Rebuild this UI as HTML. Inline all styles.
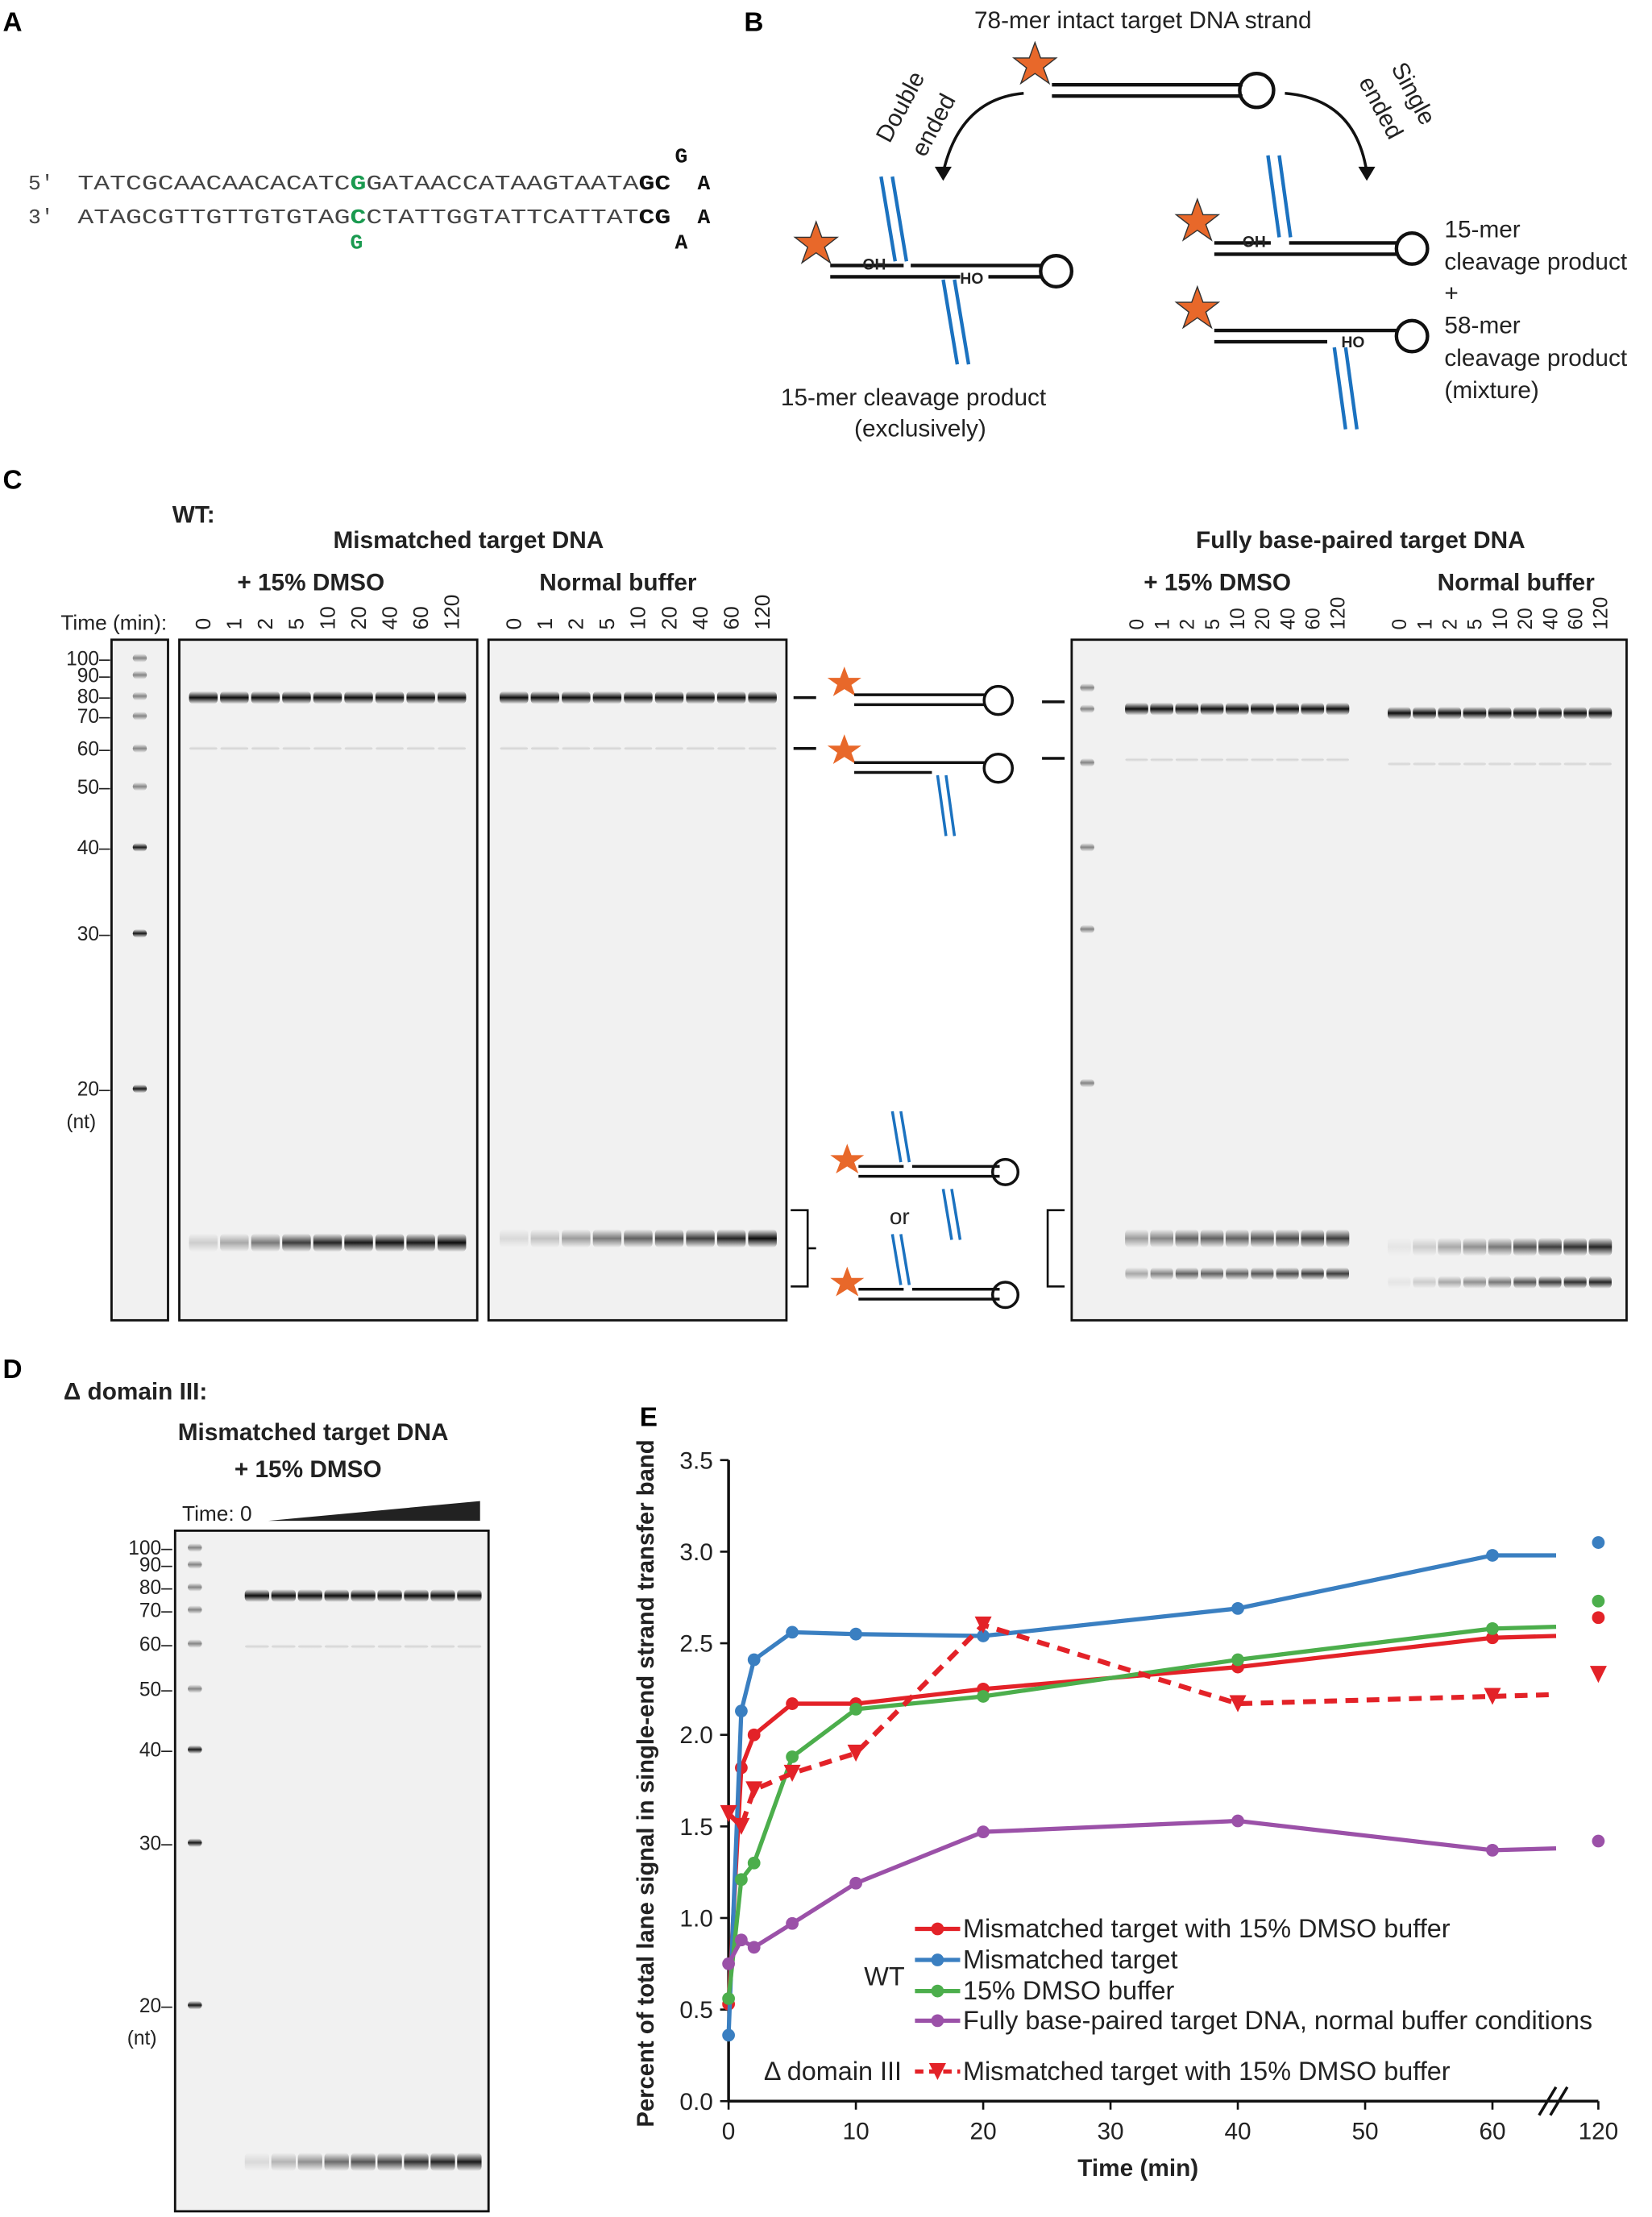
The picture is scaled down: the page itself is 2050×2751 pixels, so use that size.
<!DOCTYPE html>
<html><head><meta charset="utf-8">
<style>
html,body{margin:0;padding:0;background:#fff;}
svg{display:block;font-family:"Liberation Sans",sans-serif;}
</style></head>
<body>
<svg id="fig" width="2050" height="2751" viewBox="0 0 1170 1570" xmlns="http://www.w3.org/2000/svg">
<defs>
<linearGradient id="band" x1="0" y1="0" x2="0" y2="1"><stop offset="0" stop-color="#000" stop-opacity="0"/><stop offset="0.5" stop-color="#000" stop-opacity="1"/><stop offset="1" stop-color="#000" stop-opacity="0"/></linearGradient>
</defs>
<g font-weight="bold" font-size="19">
<text x="2" y="22">A</text><text x="527" y="22">B</text><text x="2" y="346">C</text><text x="2" y="976">D</text><text x="453" y="1010">E</text>
</g>
<g font-family="Liberation Mono, monospace" font-size="15">
<text x="20" y="134" fill="#444">5′</text><text x="20" y="158" fill="#444">3′</text>
<text x="55" y="134" fill="#444" textLength="420" lengthAdjust="spacingAndGlyphs">TATCGCAACAACACATC<tspan fill="#1a9a50" font-weight="bold">G</tspan>GATAACCATAAGTAATA<tspan fill="#111" font-weight="bold">GC</tspan></text>
<text x="55" y="158" fill="#444" textLength="420" lengthAdjust="spacingAndGlyphs">ATAGCGTTGTTGTGTAG<tspan fill="#1a9a50" font-weight="bold">C</tspan>CTATTGGTATTCATTAT<tspan fill="#111" font-weight="bold">CG</tspan></text>
<text x="248" y="176" fill="#1a9a50" font-weight="bold">G</text>
<g font-weight="bold" fill="#111"><text x="478" y="115">G</text><text x="494" y="134">A</text><text x="494" y="158">A</text><text x="478" y="176">A</text></g>
</g>
<g font-size="17" fill="#222">
<text x="690" y="20">78-mer intact target DNA strand</text>
<polygon points="733,30 737,41 748,41 739,48 743,59 733,52 723,59 727,48 718,41 729,41" fill="#e8682a" stroke="#333" stroke-width="0.8"/>
<line x1="745" y1="60" x2="880" y2="60" stroke="#111" stroke-width="2.5"/><line x1="745" y1="68" x2="880" y2="68" stroke="#111" stroke-width="2.5"/>
<circle cx="890" cy="64" r="12" fill="none" stroke="#111" stroke-width="2.5"/>
<path d="M725,66 Q680,70 668,122" fill="none" stroke="#111" stroke-width="2"/><polygon points="662,118 674,118 668,128" fill="#111"/>
<path d="M910,66 Q960,70 968,122" fill="none" stroke="#111" stroke-width="2"/><polygon points="962,118 974,118 968,128" fill="#111"/>
<text transform="translate(630,102) rotate(-62)" font-size="17">Double</text><text transform="translate(655,112) rotate(-62)" font-size="17">ended</text>
<text transform="translate(985,48) rotate(62)" font-size="17">Single</text><text transform="translate(962,58) rotate(62)" font-size="17">ended</text>
<polygon points="578,157 582,168 593,168 584,175 588,186 578,179 568,186 572,175 563,168 574,168" fill="#e8682a" stroke="#333" stroke-width="0.8"/>
<line x1="588" y1="188" x2="640" y2="188" stroke="#111" stroke-width="2.5"/><line x1="588" y1="196" x2="680" y2="196" stroke="#111" stroke-width="2.5"/>
<line x1="645" y1="188" x2="738" y2="188" stroke="#111" stroke-width="2.5"/><line x1="700" y1="196" x2="738" y2="196" stroke="#111" stroke-width="2.5"/>
<circle cx="748" cy="192" r="11" fill="none" stroke="#111" stroke-width="2.5"/>
<line x1="624" y1="125" x2="634" y2="185" stroke="#1b72c0" stroke-width="2.5"/><line x1="632" y1="125" x2="642" y2="185" stroke="#1b72c0" stroke-width="2.5"/>
<line x1="668" y1="198" x2="678" y2="258" stroke="#1b72c0" stroke-width="2.5"/><line x1="676" y1="198" x2="686" y2="258" stroke="#1b72c0" stroke-width="2.5"/>
<text x="611" y="191" font-size="11" font-weight="bold">OH</text><text x="680" y="201" font-size="11" font-weight="bold">HO</text>
<text x="553" y="287">15-mer cleavage product</text><text x="605" y="309">(exclusively)</text>
<polygon points="848,141 852,152 863,152 854,159 858,170 848,163 838,170 842,159 833,152 844,152" fill="#e8682a" stroke="#333" stroke-width="0.8"/>
<line x1="860" y1="172" x2="900" y2="172" stroke="#111" stroke-width="2.5"/><line x1="913" y1="172" x2="990" y2="172" stroke="#111" stroke-width="2.5"/><line x1="860" y1="180" x2="990" y2="180" stroke="#111" stroke-width="2.5"/>
<circle cx="1000" cy="176" r="11" fill="none" stroke="#111" stroke-width="2.5"/>
<line x1="898" y1="110" x2="906" y2="168" stroke="#1b72c0" stroke-width="2.5"/><line x1="906" y1="110" x2="914" y2="168" stroke="#1b72c0" stroke-width="2.5"/>
<text x="880" y="175" font-size="11" font-weight="bold">OH</text>
<polygon points="848,203 852,214 863,214 854,221 858,232 848,225 838,232 842,221 833,214 844,214" fill="#e8682a" stroke="#333" stroke-width="0.8"/>
<line x1="860" y1="234" x2="990" y2="234" stroke="#111" stroke-width="2.5"/><line x1="860" y1="242" x2="940" y2="242" stroke="#111" stroke-width="2.5"/>
<circle cx="1000" cy="238" r="11" fill="none" stroke="#111" stroke-width="2.5"/>
<line x1="945" y1="246" x2="953" y2="304" stroke="#1b72c0" stroke-width="2.5"/><line x1="953" y1="246" x2="961" y2="304" stroke="#1b72c0" stroke-width="2.5"/>
<text x="950" y="246" font-size="11" font-weight="bold">HO</text>
<text x="1023" y="168">15-mer</text><text x="1023" y="191">cleavage product</text><text x="1023" y="213">+</text>
<text x="1023" y="236">58-mer</text><text x="1023" y="259">cleavage product</text><text x="1023" y="282">(mixture)</text>
</g>
<g font-weight="bold" font-size="17" fill="#222">
<text x="122" y="370">WT:</text>
<text x="236" y="388">Mismatched target DNA</text>
<text x="168" y="418">+ 15% DMSO</text><text x="382" y="418">Normal buffer</text>
<text x="847" y="388">Fully base-paired target DNA</text>
<text x="810" y="418">+ 15% DMSO</text><text x="1018" y="418">Normal buffer</text>
<text x="43" y="446" font-weight="normal" font-size="15">Time (min):</text>
</g>
<g id="gels"></g>
<g fill="#222">
<line x1="562" y1="494" x2="578" y2="494" stroke="#111" stroke-width="2"/><line x1="562" y1="530" x2="578" y2="530" stroke="#111" stroke-width="2"/>
<line x1="738" y1="497" x2="754" y2="497" stroke="#111" stroke-width="2"/><line x1="738" y1="537" x2="754" y2="537" stroke="#111" stroke-width="2"/>
<path d="M560,857 H572 V911 H560" fill="none" stroke="#111" stroke-width="1.5"/><line x1="572" y1="884" x2="578" y2="884" stroke="#111" stroke-width="1.5"/>
<path d="M754,857 H742 V911 H754" fill="none" stroke="#111" stroke-width="1.5"/>
<polygon points="598,472 601,480 610,480 603,485 606,493 598,488 590,493 593,485 586,480 595,480" fill="#e8682a"/>
<line x1="605" y1="492" x2="698" y2="492" stroke="#111" stroke-width="2"/><line x1="605" y1="499" x2="698" y2="499" stroke="#111" stroke-width="2"/><circle cx="707" cy="496" r="10" fill="none" stroke="#111" stroke-width="2"/>
<polygon points="598,520 601,528 610,528 603,533 606,541 598,536 590,541 593,533 586,528 595,528" fill="#e8682a"/>
<line x1="605" y1="540" x2="698" y2="540" stroke="#111" stroke-width="2"/><line x1="605" y1="547" x2="660" y2="547" stroke="#111" stroke-width="2"/><circle cx="707" cy="544" r="10" fill="none" stroke="#111" stroke-width="2"/>
<line x1="664" y1="549" x2="670" y2="592" stroke="#1b72c0" stroke-width="2"/><line x1="670" y1="549" x2="676" y2="592" stroke="#1b72c0" stroke-width="2"/>
<polygon points="600,810 603,818 612,818 605,823 608,831 600,826 592,831 595,823 588,818 597,818" fill="#e8682a"/>
<line x1="608" y1="826" x2="640" y2="826" stroke="#111" stroke-width="2"/><line x1="646" y1="826" x2="708" y2="826" stroke="#111" stroke-width="2"/><line x1="608" y1="833" x2="708" y2="833" stroke="#111" stroke-width="2"/><circle cx="712" cy="830" r="9" fill="none" stroke="#111" stroke-width="2"/>
<line x1="632" y1="787" x2="638" y2="823" stroke="#1b72c0" stroke-width="2"/><line x1="638" y1="787" x2="644" y2="823" stroke="#1b72c0" stroke-width="2"/>
<line x1="668" y1="842" x2="674" y2="878" stroke="#1b72c0" stroke-width="2"/><line x1="674" y1="842" x2="680" y2="878" stroke="#1b72c0" stroke-width="2"/>
<text x="630" y="867" font-size="16">or</text>
<polygon points="600,897 603,905 612,905 605,910 608,918 600,913 592,918 595,910 588,905 597,905" fill="#e8682a"/>
<line x1="608" y1="913" x2="640" y2="913" stroke="#111" stroke-width="2"/><line x1="646" y1="913" x2="708" y2="913" stroke="#111" stroke-width="2"/><line x1="608" y1="920" x2="708" y2="920" stroke="#111" stroke-width="2"/><circle cx="712" cy="917" r="9" fill="none" stroke="#111" stroke-width="2"/>
<line x1="632" y1="874" x2="638" y2="910" stroke="#1b72c0" stroke-width="2"/><line x1="638" y1="874" x2="644" y2="910" stroke="#1b72c0" stroke-width="2"/>
</g>
<g font-size="17" fill="#222">
<text x="45" y="991" font-weight="bold">Δ domain III:</text>
<text x="126" y="1020" font-weight="bold">Mismatched target DNA</text>
<text x="166" y="1046" font-weight="bold">+ 15% DMSO</text>
<text x="129" y="1077" font-size="15">Time: 0</text>
<polygon points="190,1077 340,1077 340,1063" fill="#222"/>
</g>
<g id="chart"></g>
</svg>
<script>
const NS="http://www.w3.org/2000/svg";
function mk(parent,tag,attrs,txt){const e=document.createElementNS(NS,tag);for(const k in attrs)e.setAttribute(k,attrs[k]);if(txt!==undefined)e.textContent=txt;parent.appendChild(e);return e;}
const gels=document.getElementById('gels');
const ladderC=['100','90','80','70','60','50','40','30','20'];
const ladderCY=[466,478,493,507,530,557,600,661,771];
const ladderDY=[1096,1108,1124,1140,1164,1196,1239,1305,1420];
const timesC=['0','1','2','5','10','20','40','60','120'];
const timesM=['0','1','2','5','10','20','40','60','120'];
const bottomC1=[0.15,0.3,0.5,0.75,0.85,0.9,0.92,0.9,0.95];
const bottomC2=[0.1,0.2,0.35,0.5,0.6,0.7,0.75,0.85,0.95];
const bottomD=[0.1,0.25,0.4,0.55,0.65,0.7,0.8,0.85,0.9];
function gelBox(x,y,w,h,name){const r=mk(gels,'rect',{x:x,y:y,width:w,height:h,fill:'#f1f1f1',stroke:'#111','stroke-width':1.6});}
function band(x,y,w,h,op,name){const r=mk(gels,'rect',{x:x-w/2,y:y-h/2,width:w,height:h,rx:3,fill:'url(#band)',opacity:op});}
function ladder(x,ys,labels,name,labelX){for(let i=0;i<ys.length;i++){const op=labels[i]==='20'||labels[i]==='30'||labels[i]==='40'?0.9:0.45;band(x,ys[i],10,6,op,name+'-band');if(labels[i]){const t=mk(gels,'text',{x:labelX,y:ys[i]+5,'font-size':14,'text-anchor':'end',fill:'#222'},labels[i]+'–');}}}
gelBox(79,453,40,482,'ladder-gel-c');gelBox(127,453,211,482,'gel-mismatched-dmso');gelBox(346,453,211,482,'gel-mismatched-normal');gelBox(759,453,393,482,'gel-fully-paired');
ladder(99,ladderCY,ladderC,'ladder-c',78);
{const t=mk(gels,'text',{x:68,y:799,'font-size':14,'text-anchor':'end',fill:'#222'},'(nt)');}
function lanes(x0,step,n,topY,botY,bot,name,labelY,labels,fs,bot2){
 for(let i=0;i<n;i++){const x=x0+i*step;band(x,topY,step*0.92,9,0.95,name+'-full-band');band(x,topY+36,step*0.9,3,0.12,name+'-58mer-band');
  band(x,botY,step*0.92,13,bot[i],name+'-15mer-band');if(bot2)band(x,botY+25,step*0.9,9,bot2[i],name+'-15mer-band2');
  if(labels){const t=mk(gels,'text',{transform:`translate(${x+5},${labelY}) rotate(-90)`,'font-size':fs,fill:'#222'},labels[i]);}}}
lanes(144,22,9,494,880,bottomC1,'lane-c1',446,timesC,15);
lanes(364,22,9,494,877,bottomC2,'lane-c2',446,timesC,15);
ladder(770,[487,502,540,600,658,767],['','','','','',''],'ladder-c2',760);
lanes(805,17.8,9,502,877,[0.35,0.45,0.6,0.6,0.6,0.65,0.7,0.75,0.75],'lane-f1',446,timesM,14,[0.3,0.45,0.6,0.6,0.6,0.65,0.7,0.75,0.75]);
lanes(991,17.8,9,505,883,[0.05,0.15,0.3,0.4,0.5,0.65,0.75,0.8,0.85],'lane-f2',446,timesM,14,[0.05,0.15,0.3,0.4,0.5,0.65,0.75,0.8,0.85]);
gelBox(124,1084,222,482,'gel-domain3');
ladder(138,ladderDY,ladderC,'ladder-d',122);
{const t=mk(gels,'text',{x:111,y:1448,'font-size':14,'text-anchor':'end',fill:'#222'},'(nt)');}
lanes(182,18.8,9,1130,1531,bottomD,'lane-d');
/* ---------- chart E ---------- */
const chart=document.getElementById('chart');
const xTicks=[0,10,20,30,40,50,60];
const yTicks=[0,0.5,1,1.5,2,2.5,3,3.5];
const times=[0,1,2,5,10,20,40,60];
const redWT=[0.53,1.82,2.0,2.17,2.17,2.25,2.37,2.53];
const blueWT=[0.36,2.13,2.41,2.56,2.55,2.54,2.69,2.98];
const greenWT=[0.56,1.21,1.30,1.88,2.14,2.21,2.41,2.58];
const purpleWT=[0.75,0.88,0.84,0.97,1.19,1.47,1.53,1.37];
const redD3=[1.57,1.50,1.70,1.79,1.90,2.60,2.17,2.21];
const at120=[2.64,3.05,2.73,1.42,2.33];
const tail=[2.54,2.98,2.59,1.38,2.22];
const X=t=>516+t*(1057-516)/60;
const X120=1132;
const Y=v=>1488-v*(1488-1034)/3.5;
const colors=['#e32228','#3a7fc1','#4cae4c','#9b51a8','#e32228'];
const series=[redWT,blueWT,greenWT,purpleWT,redD3];
const names=['series-mismatched-dmso','series-mismatched','series-dmso','series-fully-paired','series-d3-mismatched-dmso'];
{const a=mk(chart,'line',{x1:516,y1:1034,x2:516,y2:1488,stroke:'#111','stroke-width':2});}
{const a=mk(chart,'line',{x1:516,y1:1488,x2:1132,y2:1488,stroke:'#111','stroke-width':2});}
{const b=mk(chart,'path',{d:'M1090,1498 L1102,1478 M1098,1498 L1110,1478',stroke:'#111','stroke-width':2,fill:'none'});}
yTicks.forEach(v=>{const l=mk(chart,'line',{x1:510,y1:Y(v),x2:516,y2:Y(v),stroke:'#111','stroke-width':1.5});
 const t=mk(chart,'text',{x:505,y:Y(v)+6,'font-size':17,'text-anchor':'end',fill:'#222'},v.toFixed(1));});
xTicks.forEach(v=>{const l=mk(chart,'line',{x1:X(v),y1:1488,x2:X(v),y2:1494,stroke:'#111','stroke-width':1.5});
 const t=mk(chart,'text',{x:X(v),y:1515,'font-size':17,'text-anchor':'middle',fill:'#222'},String(v));});
{const l=mk(chart,'line',{x1:X120,y1:1488,x2:X120,y2:1494,stroke:'#111','stroke-width':1.5});
 const t=mk(chart,'text',{x:X120,y:1515,'font-size':17,'text-anchor':'middle',fill:'#222'},'120');}
{const t=mk(chart,'text',{x:806,y:1541,'font-size':17,'font-weight':'bold','text-anchor':'middle',fill:'#222'},'Time (min)');}
{const t=mk(chart,'text',{transform:'translate(463,1263) rotate(-90)','font-size':16.7,'font-weight':'bold','text-anchor':'middle',fill:'#222'},'Percent of total lane signal in single-end strand transfer band');}
series.forEach((s,k)=>{
 let d=s.map((v,i)=>(i?'L':'M')+X(times[i])+','+Y(v)).join(' ')+' L'+X(65)+','+Y(tail[k]);
 const p=mk(chart,'path',{d:d,fill:'none',stroke:colors[k],'stroke-width':k===4?3.5:3,'stroke-dasharray':k===4?'9,6':'none'});
 
 s.forEach((v,i)=>{let m;const x=X(times[i]),y=Y(v);
  if(k===4)m=mk(chart,'polygon',{points:`${x-6},${y-6} ${x+6},${y-6} ${x},${y+6}`,fill:colors[k]});
  else m=mk(chart,'circle',{cx:x,cy:y,r:4.5,fill:colors[k]});
  });
 let m;const x=X120,y=Y(at120[k]);
 if(k===4)m=mk(chart,'polygon',{points:`${x-6},${y-6} ${x+6},${y-6} ${x},${y+6}`,fill:colors[k]});
 else m=mk(chart,'circle',{cx:x,cy:y,r:4.5,fill:colors[k]});
 
});
const legLabels=['Mismatched target with 15% DMSO buffer','Mismatched target','15% DMSO buffer','Fully base-paired target DNA, normal buffer conditions','Mismatched target with 15% DMSO buffer'];
const legY=[1366,1388,1410,1431,1467];
legLabels.forEach((s,k)=>{
 const l=mk(chart,'line',{x1:648,y1:legY[k],x2:680,y2:legY[k],stroke:colors[k],'stroke-width':3,'stroke-dasharray':k===4?'6,4':'none'});
 let m;if(k===4)m=mk(chart,'polygon',{points:`658,${legY[k]-6} 670,${legY[k]-6} 664,${legY[k]+6}`,fill:colors[k]});else m=mk(chart,'circle',{cx:664,cy:legY[k],r:4.5,fill:colors[k]});
 
 const t=mk(chart,'text',{x:682,y:legY[k]+6,'font-size':18.5,fill:'#222'},s);
});
{const t=mk(chart,'text',{x:612,y:1406,'font-size':18.5,fill:'#222'},'WT');}
{const t=mk(chart,'text',{x:541,y:1473,'font-size':18.5,fill:'#222'},'Δ domain III');}
</script>
</body></html>
